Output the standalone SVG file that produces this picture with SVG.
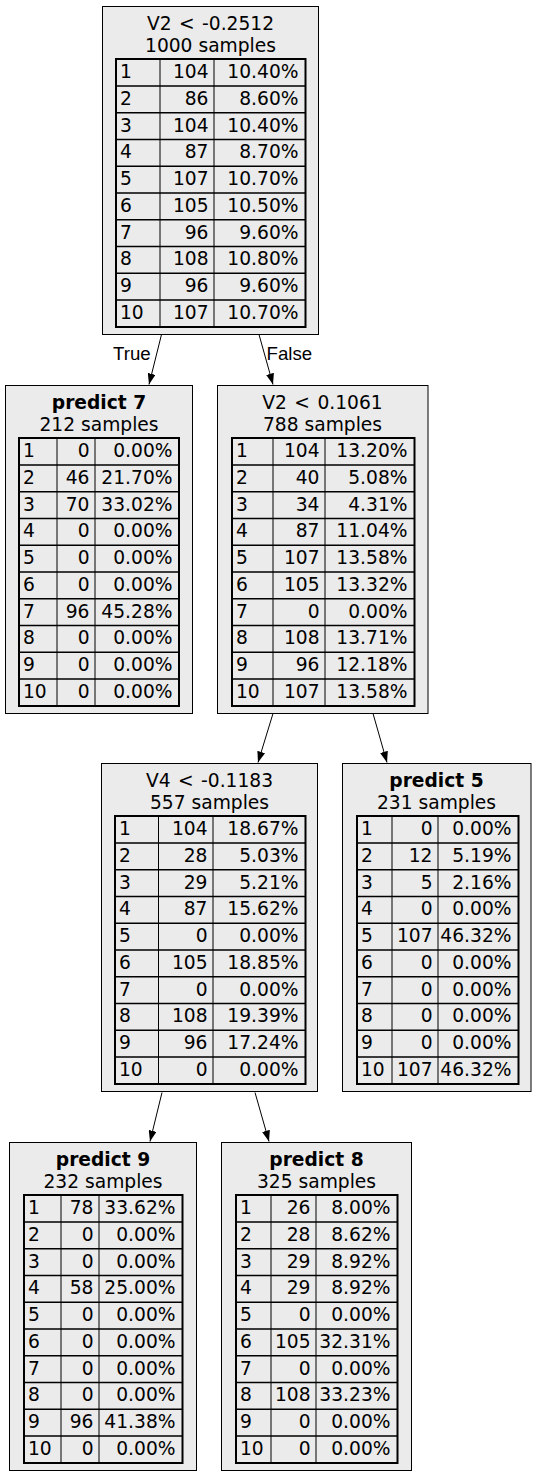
<svg xmlns="http://www.w3.org/2000/svg" width="537" height="1477" viewBox="0 0 537 1477">
<style>
.bg{fill:#fff}
.box{fill:#ebebeb;stroke:#000;stroke-width:1}
.tbl{fill:none;stroke:#000;stroke-width:2}
.hl{fill:none;stroke:#000;stroke-width:1.5}
.vl{fill:none;stroke:#000;stroke-width:1}
text{font-family:"DejaVu Sans",sans-serif;font-size:18.67px;fill:#000}
.t{text-anchor:middle}
.b{font-weight:bold}
.s{word-spacing:1.5px}
.r{text-anchor:end}
.el{font-family:"Liberation Sans",Arial,sans-serif;font-size:18.67px}
.edge{stroke:#000;stroke-width:1;fill:none;marker-end:url(#arr)}
</style>
<defs>
<marker id="arr" markerUnits="userSpaceOnUse" markerWidth="11" markerHeight="8" refX="11" refY="4" orient="auto" viewBox="0 0 11 8">
<path d="M0,0 L11,4 L0,8 Z" fill="#000"/>
</marker>
</defs>
<rect class="bg" x="0" y="0" width="537" height="1477"/>

<g id="connectors">
<path class="edge" d="M161.5,334.5 L149,384.5"/>
<path class="edge" d="M259,334.5 L273,384.5"/>
<path class="edge" d="M273,713.5 L258,762.5"/>
<path class="edge" d="M373,713.5 L387,762.5"/>
<path class="edge" d="M162,1092.5 L150,1141.5"/>
<path class="edge" d="M255,1092.5 L269,1141.5"/>
<text class="el" x="113" y="360">True</text>
<text class="el" x="266.5" y="360">False</text>
</g>

<g id="node-root" transform="translate(0,6)">
<rect class="box" x="102.5" y="0.5" width="216" height="328"/>
<text class="t s" x="210.5" y="23.5">V2 &lt; -0.2512</text>
<text class="t" x="210.5" y="45.5">1000 samples</text>
<rect class="tbl" x="116" y="53" width="189.5" height="268"/>
<path class="hl" d="M116,80H305.5M116,106.75H305.5M116,133.5H305.5M116,160.25H305.5M116,187H305.5M116,213.75H305.5M116,240.5H305.5M116,267.25H305.5M116,294H305.5"/>
<path class="vl" d="M160,53V321M214,53V321"/>
<text x="120" y="72">1</text><text class="r" x="208.5" y="72">104</text><text class="r" x="298.5" y="72">10.40%</text>
<text x="120" y="98.75">2</text><text class="r" x="208.5" y="98.75">86</text><text class="r" x="298.5" y="98.75">8.60%</text>
<text x="120" y="125.5">3</text><text class="r" x="208.5" y="125.5">104</text><text class="r" x="298.5" y="125.5">10.40%</text>
<text x="120" y="152.25">4</text><text class="r" x="208.5" y="152.25">87</text><text class="r" x="298.5" y="152.25">8.70%</text>
<text x="120" y="179">5</text><text class="r" x="208.5" y="179">107</text><text class="r" x="298.5" y="179">10.70%</text>
<text x="120" y="205.75">6</text><text class="r" x="208.5" y="205.75">105</text><text class="r" x="298.5" y="205.75">10.50%</text>
<text x="120" y="232.5">7</text><text class="r" x="208.5" y="232.5">96</text><text class="r" x="298.5" y="232.5">9.60%</text>
<text x="120" y="259.25">8</text><text class="r" x="208.5" y="259.25">108</text><text class="r" x="298.5" y="259.25">10.80%</text>
<text x="120" y="286">9</text><text class="r" x="208.5" y="286">96</text><text class="r" x="298.5" y="286">9.60%</text>
<text x="120" y="312.75">10</text><text class="r" x="208.5" y="312.75">107</text><text class="r" x="298.5" y="312.75">10.70%</text>
</g>

<g id="node-predict7" transform="translate(0,385)">
<rect class="box" x="5.5" y="0.5" width="187" height="328"/>
<text class="t b" x="99" y="23.5">predict 7</text>
<text class="t" x="99" y="45.5">212 samples</text>
<rect class="tbl" x="19" y="53" width="160" height="268"/>
<path class="hl" d="M19,80H179M19,106.75H179M19,133.5H179M19,160.25H179M19,187H179M19,213.75H179M19,240.5H179M19,267.25H179M19,294H179"/>
<path class="vl" d="M57,53V321M95,53V321"/>
<text x="23" y="72">1</text><text class="r" x="89.5" y="72">0</text><text class="r" x="172.5" y="72">0.00%</text>
<text x="23" y="98.75">2</text><text class="r" x="89.5" y="98.75">46</text><text class="r" x="172.5" y="98.75">21.70%</text>
<text x="23" y="125.5">3</text><text class="r" x="89.5" y="125.5">70</text><text class="r" x="172.5" y="125.5">33.02%</text>
<text x="23" y="152.25">4</text><text class="r" x="89.5" y="152.25">0</text><text class="r" x="172.5" y="152.25">0.00%</text>
<text x="23" y="179">5</text><text class="r" x="89.5" y="179">0</text><text class="r" x="172.5" y="179">0.00%</text>
<text x="23" y="205.75">6</text><text class="r" x="89.5" y="205.75">0</text><text class="r" x="172.5" y="205.75">0.00%</text>
<text x="23" y="232.5">7</text><text class="r" x="89.5" y="232.5">96</text><text class="r" x="172.5" y="232.5">45.28%</text>
<text x="23" y="259.25">8</text><text class="r" x="89.5" y="259.25">0</text><text class="r" x="172.5" y="259.25">0.00%</text>
<text x="23" y="286">9</text><text class="r" x="89.5" y="286">0</text><text class="r" x="172.5" y="286">0.00%</text>
<text x="23" y="312.75">10</text><text class="r" x="89.5" y="312.75">0</text><text class="r" x="172.5" y="312.75">0.00%</text>
</g>

<g id="node-v2b" transform="translate(0,385)">
<rect class="box" x="217.5" y="0.5" width="210.5" height="328"/>
<text class="t s" x="322.5" y="23.5">V2 &lt; 0.1061</text>
<text class="t" x="322.5" y="45.5">788 samples</text>
<rect class="tbl" x="232" y="53" width="182.5" height="268"/>
<path class="hl" d="M232,80H414.5M232,106.75H414.5M232,133.5H414.5M232,160.25H414.5M232,187H414.5M232,213.75H414.5M232,240.5H414.5M232,267.25H414.5M232,294H414.5"/>
<path class="vl" d="M273,53V321M325,53V321"/>
<text x="236" y="72">1</text><text class="r" x="319.5" y="72">104</text><text class="r" x="407.5" y="72">13.20%</text>
<text x="236" y="98.75">2</text><text class="r" x="319.5" y="98.75">40</text><text class="r" x="407.5" y="98.75">5.08%</text>
<text x="236" y="125.5">3</text><text class="r" x="319.5" y="125.5">34</text><text class="r" x="407.5" y="125.5">4.31%</text>
<text x="236" y="152.25">4</text><text class="r" x="319.5" y="152.25">87</text><text class="r" x="407.5" y="152.25">11.04%</text>
<text x="236" y="179">5</text><text class="r" x="319.5" y="179">107</text><text class="r" x="407.5" y="179">13.58%</text>
<text x="236" y="205.75">6</text><text class="r" x="319.5" y="205.75">105</text><text class="r" x="407.5" y="205.75">13.32%</text>
<text x="236" y="232.5">7</text><text class="r" x="319.5" y="232.5">0</text><text class="r" x="407.5" y="232.5">0.00%</text>
<text x="236" y="259.25">8</text><text class="r" x="319.5" y="259.25">108</text><text class="r" x="407.5" y="259.25">13.71%</text>
<text x="236" y="286">9</text><text class="r" x="319.5" y="286">96</text><text class="r" x="407.5" y="286">12.18%</text>
<text x="236" y="312.75">10</text><text class="r" x="319.5" y="312.75">107</text><text class="r" x="407.5" y="312.75">13.58%</text>
</g>

<g id="node-v4" transform="translate(0,763)">
<rect class="box" x="101.5" y="0.5" width="216" height="328"/>
<text class="t s" x="209.5" y="23.5">V4 &lt; -0.1183</text>
<text class="t" x="209.5" y="45.5">557 samples</text>
<rect class="tbl" x="115" y="53" width="190.5" height="268"/>
<path class="hl" d="M115,80H305.5M115,106.75H305.5M115,133.5H305.5M115,160.25H305.5M115,187H305.5M115,213.75H305.5M115,240.5H305.5M115,267.25H305.5M115,294H305.5"/>
<path class="vl" d="M158.5,53V321M213,53V321"/>
<text x="119" y="72">1</text><text class="r" x="207.5" y="72">104</text><text class="r" x="298.5" y="72">18.67%</text>
<text x="119" y="98.75">2</text><text class="r" x="207.5" y="98.75">28</text><text class="r" x="298.5" y="98.75">5.03%</text>
<text x="119" y="125.5">3</text><text class="r" x="207.5" y="125.5">29</text><text class="r" x="298.5" y="125.5">5.21%</text>
<text x="119" y="152.25">4</text><text class="r" x="207.5" y="152.25">87</text><text class="r" x="298.5" y="152.25">15.62%</text>
<text x="119" y="179">5</text><text class="r" x="207.5" y="179">0</text><text class="r" x="298.5" y="179">0.00%</text>
<text x="119" y="205.75">6</text><text class="r" x="207.5" y="205.75">105</text><text class="r" x="298.5" y="205.75">18.85%</text>
<text x="119" y="232.5">7</text><text class="r" x="207.5" y="232.5">0</text><text class="r" x="298.5" y="232.5">0.00%</text>
<text x="119" y="259.25">8</text><text class="r" x="207.5" y="259.25">108</text><text class="r" x="298.5" y="259.25">19.39%</text>
<text x="119" y="286">9</text><text class="r" x="207.5" y="286">96</text><text class="r" x="298.5" y="286">17.24%</text>
<text x="119" y="312.75">10</text><text class="r" x="207.5" y="312.75">0</text><text class="r" x="298.5" y="312.75">0.00%</text>
</g>

<g id="node-predict5" transform="translate(0,763)">
<rect class="box" x="342.5" y="0.5" width="188.5" height="328"/>
<text class="t b" x="436.5" y="23.5">predict 5</text>
<text class="t" x="436.5" y="45.5">231 samples</text>
<rect class="tbl" x="357" y="53" width="161.5" height="268"/>
<path class="hl" d="M357,80H518.5M357,106.75H518.5M357,133.5H518.5M357,160.25H518.5M357,187H518.5M357,213.75H518.5M357,240.5H518.5M357,267.25H518.5M357,294H518.5"/>
<path class="vl" d="M392,53V321M438,53V321"/>
<text x="361" y="72">1</text><text class="r" x="432.5" y="72">0</text><text class="r" x="511.5" y="72">0.00%</text>
<text x="361" y="98.75">2</text><text class="r" x="432.5" y="98.75">12</text><text class="r" x="511.5" y="98.75">5.19%</text>
<text x="361" y="125.5">3</text><text class="r" x="432.5" y="125.5">5</text><text class="r" x="511.5" y="125.5">2.16%</text>
<text x="361" y="152.25">4</text><text class="r" x="432.5" y="152.25">0</text><text class="r" x="511.5" y="152.25">0.00%</text>
<text x="361" y="179">5</text><text class="r" x="432.5" y="179">107</text><text class="r" x="511.5" y="179">46.32%</text>
<text x="361" y="205.75">6</text><text class="r" x="432.5" y="205.75">0</text><text class="r" x="511.5" y="205.75">0.00%</text>
<text x="361" y="232.5">7</text><text class="r" x="432.5" y="232.5">0</text><text class="r" x="511.5" y="232.5">0.00%</text>
<text x="361" y="259.25">8</text><text class="r" x="432.5" y="259.25">0</text><text class="r" x="511.5" y="259.25">0.00%</text>
<text x="361" y="286">9</text><text class="r" x="432.5" y="286">0</text><text class="r" x="511.5" y="286">0.00%</text>
<text x="361" y="312.75">10</text><text class="r" x="432.5" y="312.75">107</text><text class="r" x="511.5" y="312.75">46.32%</text>
</g>

<g id="node-predict9" transform="translate(0,1142)">
<rect class="box" x="9.5" y="0.5" width="187" height="328"/>
<text class="t b" x="103" y="23.5">predict 9</text>
<text class="t" x="103" y="45.5">232 samples</text>
<rect class="tbl" x="24" y="53" width="158.5" height="268"/>
<path class="hl" d="M24,80H182.5M24,106.75H182.5M24,133.5H182.5M24,160.25H182.5M24,187H182.5M24,213.75H182.5M24,240.5H182.5M24,267.25H182.5M24,294H182.5"/>
<path class="vl" d="M61,53V321M99,53V321"/>
<text x="28" y="72">1</text><text class="r" x="93.5" y="72">78</text><text class="r" x="175.5" y="72">33.62%</text>
<text x="28" y="98.75">2</text><text class="r" x="93.5" y="98.75">0</text><text class="r" x="175.5" y="98.75">0.00%</text>
<text x="28" y="125.5">3</text><text class="r" x="93.5" y="125.5">0</text><text class="r" x="175.5" y="125.5">0.00%</text>
<text x="28" y="152.25">4</text><text class="r" x="93.5" y="152.25">58</text><text class="r" x="175.5" y="152.25">25.00%</text>
<text x="28" y="179">5</text><text class="r" x="93.5" y="179">0</text><text class="r" x="175.5" y="179">0.00%</text>
<text x="28" y="205.75">6</text><text class="r" x="93.5" y="205.75">0</text><text class="r" x="175.5" y="205.75">0.00%</text>
<text x="28" y="232.5">7</text><text class="r" x="93.5" y="232.5">0</text><text class="r" x="175.5" y="232.5">0.00%</text>
<text x="28" y="259.25">8</text><text class="r" x="93.5" y="259.25">0</text><text class="r" x="175.5" y="259.25">0.00%</text>
<text x="28" y="286">9</text><text class="r" x="93.5" y="286">96</text><text class="r" x="175.5" y="286">41.38%</text>
<text x="28" y="312.75">10</text><text class="r" x="93.5" y="312.75">0</text><text class="r" x="175.5" y="312.75">0.00%</text>
</g>

<g id="node-predict8" transform="translate(0,1142)">
<rect class="box" x="221.5" y="0.5" width="190" height="328"/>
<text class="t b" x="316.5" y="23.5">predict 8</text>
<text class="t" x="316.5" y="45.5">325 samples</text>
<rect class="tbl" x="236" y="53" width="161.5" height="268"/>
<path class="hl" d="M236,80H397.5M236,106.75H397.5M236,133.5H397.5M236,160.25H397.5M236,187H397.5M236,213.75H397.5M236,240.5H397.5M236,267.25H397.5M236,294H397.5"/>
<path class="vl" d="M271,53V321M316,53V321"/>
<text x="240" y="72">1</text><text class="r" x="310.5" y="72">26</text><text class="r" x="390.5" y="72">8.00%</text>
<text x="240" y="98.75">2</text><text class="r" x="310.5" y="98.75">28</text><text class="r" x="390.5" y="98.75">8.62%</text>
<text x="240" y="125.5">3</text><text class="r" x="310.5" y="125.5">29</text><text class="r" x="390.5" y="125.5">8.92%</text>
<text x="240" y="152.25">4</text><text class="r" x="310.5" y="152.25">29</text><text class="r" x="390.5" y="152.25">8.92%</text>
<text x="240" y="179">5</text><text class="r" x="310.5" y="179">0</text><text class="r" x="390.5" y="179">0.00%</text>
<text x="240" y="205.75">6</text><text class="r" x="310.5" y="205.75">105</text><text class="r" x="390.5" y="205.75">32.31%</text>
<text x="240" y="232.5">7</text><text class="r" x="310.5" y="232.5">0</text><text class="r" x="390.5" y="232.5">0.00%</text>
<text x="240" y="259.25">8</text><text class="r" x="310.5" y="259.25">108</text><text class="r" x="390.5" y="259.25">33.23%</text>
<text x="240" y="286">9</text><text class="r" x="310.5" y="286">0</text><text class="r" x="390.5" y="286">0.00%</text>
<text x="240" y="312.75">10</text><text class="r" x="310.5" y="312.75">0</text><text class="r" x="390.5" y="312.75">0.00%</text>
</g>
</svg>
